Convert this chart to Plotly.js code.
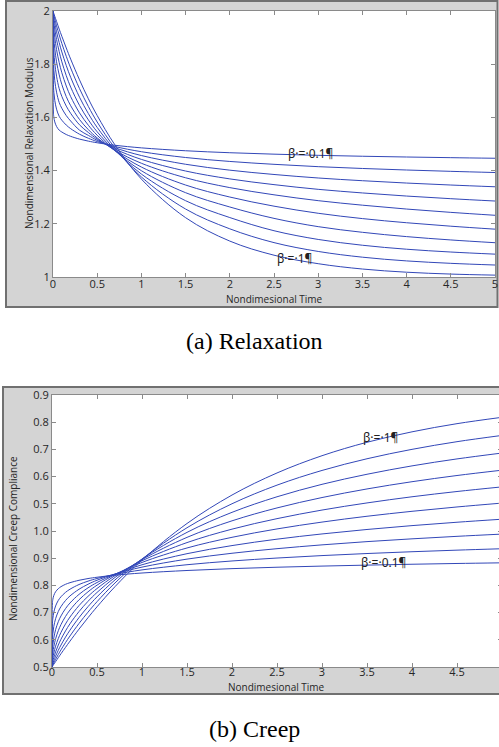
<!DOCTYPE html>
<html>
<head>
<meta charset="utf-8">
<script src="https://cdn.plot.ly/plotly-3.0.1.min.js"></script>
<style>
html,body{margin:0;padding:0;overflow:hidden;background:#fff;width:499px;height:747px}
#chart{width:510px;height:747px}
</style>
</head>
<body>
<div id="chart"></div>
<script>
// Nondimensional time samples (shared by both panels)
const T = [0, 0.005, 0.01, 0.02, 0.04, 0.07, 0.1, 0.15, 0.2, 0.3, 0.4, 0.5, 0.7, 1, 1.5, 2, 2.5, 3, 3.5, 4, 4.5, 5];

const betas = ['0.1','0.2','0.3','0.4','0.5','0.6','0.7','0.8','0.9','1'];

// (a) Relaxation modulus, one series per beta
const relaxB01 = [2, 1.616, 1.600, 1.583, 1.566, 1.552, 1.545, 1.5356, 1.5288, 1.5184, 1.5108, 1.5046, 1.4953, 1.4855, 1.4746, 1.4672, 1.4618, 1.4574, 1.454, 1.4511, 1.4486, 1.4464];
const relaxB02 = [2, 1.723, 1.694, 1.664, 1.631, 1.604, 1.5894, 1.5712, 1.5576, 1.5368, 1.5216, 1.5092, 1.4906, 1.4710, 1.4492, 1.4344, 1.4236, 1.4148, 1.408, 1.4022, 1.3972, 1.3928];
const relaxB03 = [2, 1.812, 1.777, 1.738, 1.695, 1.656, 1.6342, 1.6068, 1.5864, 1.552, 1.5324, 1.5138, 1.486, 1.4566, 1.4238, 1.4016, 1.3854, 1.3722, 1.362, 1.3532, 1.3458, 1.3392];
const relaxB04 = [2, 1.879, 1.845, 1.804, 1.755, 1.708, 1.6789, 1.6424, 1.6152, 1.572, 1.5432, 1.5184, 1.4813, 1.4421, 1.3984, 1.3688, 1.3472, 1.3296, 1.316, 1.3043, 1.2944, 1.2856];
const relaxB05 = [2, 1.925, 1.8965, 1.858, 1.809, 1.760, 1.7236, 1.678, 1.644, 1.592, 1.554, 1.523, 1.4766, 1.4276, 1.373, 1.336, 1.309, 1.287, 1.270, 1.2554, 1.243, 1.232];
const relaxB06 = [2, 1.955, 1.933, 1.901, 1.855, 1.806, 1.768, 1.718, 1.678, 1.617, 1.5705, 1.533, 1.4749, 1.4133, 1.3457, 1.3006, 1.2663, 1.2396, 1.2196, 1.2040, 1.1910, 1.1798];
const relaxB07 = [2, 1.974, 1.957, 1.932, 1.893, 1.847, 1.809, 1.757, 1.714, 1.645, 1.5907, 1.5458, 1.4753, 1.3996, 1.3169, 1.2632, 1.2204, 1.1893, 1.1680, 1.1518, 1.1393, 1.1289];
const relaxB08 = [2, 1.985, 1.973, 1.954, 1.922, 1.881, 1.846, 1.795, 1.7506, 1.6759, 1.6143, 1.5623, 1.4786, 1.3869, 1.2868, 1.2235, 1.1740, 1.1412, 1.1194, 1.1044, 1.0939, 1.0859];
const relaxB09 = [2, 1.991, 1.984, 1.970, 1.944, 1.910, 1.878, 1.8297, 1.7858, 1.7081, 1.6411, 1.5826, 1.4855, 1.3761, 1.2555, 1.1811, 1.1293, 1.0961, 1.0745, 1.0605, 1.0514, 1.0450];
const relaxB10 = [2, 1.995, 1.990, 1.980, 1.961, 1.932, 1.905, 1.861, 1.819, 1.741, 1.670, 1.607, 1.497, 1.368, 1.223, 1.135, 1.082, 1.050, 1.030, 1.018, 1.011, 1.007];

// (b) Creep compliance, one series per beta
const creepB01 = [0.5, 0.6185, 0.6249, 0.6315, 0.6383, 0.6440, 0.6477, 0.6520, 0.6550, 0.6594, 0.6626, 0.6650, 0.6688, 0.6728, 0.6774, 0.6808, 0.6834, 0.6855, 0.6873, 0.6889, 0.6903, 0.6915];
const creepB02 = [0.5, 0.5799, 0.5898, 0.6005, 0.6122, 0.6224, 0.6292, 0.6372, 0.6430, 0.6516, 0.6578, 0.6627, 0.6703, 0.6785, 0.6880, 0.6949, 0.7003, 0.7048, 0.7086, 0.7119, 0.7148, 0.7174];
const creepB03 = [0.5, 0.5515, 0.5621, 0.5745, 0.5888, 0.6020, 0.6111, 0.6222, 0.6306, 0.6429, 0.6521, 0.6595, 0.6710, 0.6836, 0.6983, 0.7091, 0.7175, 0.7245, 0.7305, 0.7356, 0.7402, 0.7443];
const creepB04 = [0.5, 0.5320, 0.5415, 0.5535, 0.5686, 0.5833, 0.5939, 0.6073, 0.6177, 0.6335, 0.6455, 0.6553, 0.6707, 0.6879, 0.7083, 0.7232, 0.7350, 0.7446, 0.7528, 0.7599, 0.7661, 0.7717];
const creepB05 = [0.5, 0.5193, 0.5270, 0.5375, 0.5518, 0.5667, 0.5781, 0.5929, 0.6048, 0.6235, 0.6382, 0.6504, 0.6700, 0.6922, 0.7188, 0.7384, 0.7538, 0.7664, 0.7771, 0.7862, 0.7942, 0.8013];
const creepB06 = [0.5, 0.5115, 0.5172, 0.5257, 0.5383, 0.5524, 0.5637, 0.5791, 0.5919, 0.6129, 0.6298, 0.6442, 0.6679, 0.6953, 0.7287, 0.7534, 0.7727, 0.7885, 0.8016, 0.8129, 0.8226, 0.8311];
const creepB07 = [0.5, 0.5067, 0.5108, 0.5174, 0.5278, 0.5404, 0.5511, 0.5663, 0.5795, 0.6019, 0.6207, 0.6370, 0.6646, 0.6974, 0.7383, 0.7687, 0.7924, 0.8115, 0.8273, 0.8406, 0.8520, 0.8618];
const creepB08 = [0.5, 0.5039, 0.5067, 0.5116, 0.5199, 0.5308, 0.5404, 0.5549, 0.5678, 0.5908, 0.6109, 0.6289, 0.6601, 0.6985, 0.7475, 0.7843, 0.8129, 0.8358, 0.8543, 0.8697, 0.8825, 0.8933];
const creepB09 = [0.5, 0.5022, 0.5041, 0.5076, 0.5141, 0.5231, 0.5316, 0.5448, 0.5571, 0.5800, 0.6008, 0.6200, 0.6545, 0.6983, 0.7560, 0.8001, 0.8343, 0.8613, 0.8828, 0.9001, 0.9142, 0.9257];
const creepB10 = [0.5, 0.5012, 0.5025, 0.5050, 0.5099, 0.5172, 0.5244, 0.5361, 0.5476, 0.5696, 0.5906, 0.6106, 0.6477, 0.6967, 0.7638, 0.8161, 0.8567, 0.8884, 0.9131, 0.9323, 0.9473, 0.9590];

// Tick labels
const relaxXTicks = [0, 0.5, 1, 1.5, 2, 2.5, 3, 3.5, 4, 4.5, 5];
const creepXTicks = [0, 0.5, 1, 1.5, 2, 2.5, 3, 3.5, 4, 4.5];
const relaxYTicks = [1, 1.2, 1.4, 1.6, 1.8, 2];
const creepYTickVals = [0.5, 0.55, 0.6, 0.65, 0.7, 0.75, 0.8, 0.85, 0.9, 0.95, 1.0];
const creepYTickText = ['0.5', '0.6', '0.7', '0.8', '0.9', '1.0', '0.5', '0.6', '0.7', '0.8', '0.9'];

const relaxSeries = [relaxB01, relaxB02, relaxB03, relaxB04, relaxB05, relaxB06, relaxB07, relaxB08, relaxB09, relaxB10];
const creepSeries = [creepB01, creepB02, creepB03, creepB04, creepB05, creepB06, creepB07, creepB08, creepB09, creepB10];

// ---- layout helpers (pixel -> paper) ----
const W = 510, H = 747;
const px = v => v / W;
const py = v => 1 - v / H;

const LINE = '#3247b8';
const AXC = '#8a8a8a';
const FONT = 'Open Sans, Noto Sans, sans-serif';
const LBLFONT = 'Noto Sans, DejaVu Sans, sans-serif';

const traces = [];
relaxSeries.forEach((ys, i) => traces.push({
  x: T, y: ys, xaxis: 'x', yaxis: 'y', mode: 'lines',
  line: {color: LINE, width: 1, shape: 'spline', smoothing: 1}, name: 'β = ' + betas[i], hoverinfo: 'skip'
}));
creepSeries.forEach((ys, i) => traces.push({
  x: T, y: ys, xaxis: 'x2', yaxis: 'y2', mode: 'lines',
  line: {color: LINE, width: 1, shape: 'spline', smoothing: 1}, name: 'β = ' + betas[i], hoverinfo: 'skip'
}));

const axBase = {
  showgrid: false, zeroline: false, showline: true, linecolor: AXC, linewidth: 1,
  mirror: 'ticks', ticks: 'inside', ticklen: 4, tickcolor: AXC, tickwidth: 1,
  tickfont: {family: FONT, size: 11, color: '#262626'}, fixedrange: true
};

const layout = {
  width: W, height: H,
  margin: {l: 0, r: 0, t: 0, b: 0, pad: 0},
  paper_bgcolor: '#ffffff', plot_bgcolor: 'rgba(0,0,0,0)',
  showlegend: false, hovermode: false,
  xaxis: Object.assign({}, axBase, {domain: [px(53), px(495)], anchor: 'y', range: [0, 5],
    tickvals: relaxXTicks, ticklabelstandoff: -3}),
  yaxis: Object.assign({}, axBase, {domain: [py(277), py(11)], anchor: 'x', range: [1, 2],
    tickvals: relaxYTicks}),
  xaxis2: Object.assign({}, axBase, {domain: [px(52), px(502)], anchor: 'y2', range: [0, 5],
    tickvals: creepXTicks, ticklabelstandoff: -5}),
  yaxis2: Object.assign({}, axBase, {domain: [py(667), py(395)], anchor: 'x2', range: [0.5, 1.0],
    tickvals: creepYTickVals, ticktext: creepYTickText}),
  shapes: [
    {type: 'rect', xref: 'paper', yref: 'paper', x0: px(6), x1: px(497.5), y0: py(307), y1: py(1),
      fillcolor: '#d4d4d4', line: {color: '#707070', width: 2}, layer: 'below'},
    {type: 'rect', xref: 'x domain', yref: 'y domain', x0: 0, x1: 1, y0: 0, y1: 1,
      fillcolor: '#ffffff', line: {width: 0}, layer: 'below'},
    {type: 'rect', xref: 'paper', yref: 'paper', x0: px(3), x1: 1.05, y0: py(694), y1: py(387),
      fillcolor: '#d4d4d4', line: {color: '#707070', width: 2}, layer: 'below'},
    {type: 'rect', xref: 'x2 domain', yref: 'y2 domain', x0: 0, x1: 1, y0: 0, y1: 1,
      fillcolor: '#ffffff', line: {width: 0}, layer: 'below'}
  ],
  annotations: [
    {xref: 'paper', yref: 'paper', x: px(29), y: py(143), text: 'Nondimensional Relaxation Modulus',
      textangle: -90, showarrow: false, xanchor: 'center', yanchor: 'middle',
      font: {family: FONT, size: 10, color: '#262626'}},
    {xref: 'paper', yref: 'paper', x: px(274), y: py(299), text: 'Nondimesional Time',
      showarrow: false, xanchor: 'center', yanchor: 'middle',
      font: {family: FONT, size: 10, color: '#262626'}},
    {xref: 'paper', yref: 'paper', x: px(13), y: py(539), text: 'Nondimensional Creep Compliance',
      textangle: -90, showarrow: false, xanchor: 'center', yanchor: 'middle',
      font: {family: FONT, size: 10, color: '#262626'}},
    {xref: 'paper', yref: 'paper', x: px(276), y: py(687), text: 'Nondimesional Time',
      showarrow: false, xanchor: 'center', yanchor: 'middle',
      font: {family: FONT, size: 10, color: '#262626'}},
    {xref: 'paper', yref: 'paper', x: px(254), y: py(341), text: '(a) Relaxation',
      showarrow: false, xanchor: 'center', yanchor: 'middle',
      font: {family: 'Liberation Serif, Times New Roman, serif', size: 24, color: '#000'}},
    {xref: 'paper', yref: 'paper', x: px(254), y: py(729), text: '(b) Creep',
      showarrow: false, xanchor: 'center', yanchor: 'middle',
      font: {family: 'Liberation Serif, Times New Roman, serif', size: 24, color: '#000'}},
    {xref: 'x', yref: 'y', x: 2.91, y: 1.466, text: 'β·=·0.1¶', showarrow: false,
      xanchor: 'center', yanchor: 'middle', font: {family: LBLFONT, size: 12, color: '#222'}},
    {xref: 'x', yref: 'y', x: 2.73, y: 1.071, text: 'β·=·1¶', showarrow: false,
      xanchor: 'center', yanchor: 'middle', font: {family: LBLFONT, size: 12, color: '#222'}},
    {xref: 'x2', yref: 'y2', x: 3.65, y: 0.9228, text: 'β·=·1¶', showarrow: false,
      xanchor: 'center', yanchor: 'middle', font: {family: LBLFONT, size: 12, color: '#222'}},
    {xref: 'x2', yref: 'y2', x: 3.68, y: 0.6912, text: 'β·=·0.1¶', showarrow: false,
      xanchor: 'center', yanchor: 'middle', font: {family: LBLFONT, size: 12, color: '#222'}}
  ]
};

Plotly.newPlot('chart', traces, layout, {staticPlot: true, displayModeBar: false});
</script>
</body>
</html>
